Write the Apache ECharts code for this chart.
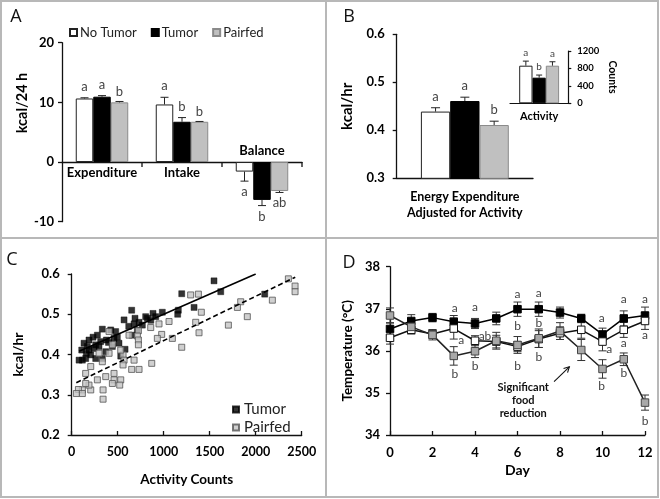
<!DOCTYPE html>
<html><head><meta charset="utf-8">
<script src="https://cdn.jsdelivr.net/npm/echarts@6/dist/echarts.min.js"></script>
<style>html,body{margin:0;padding:0;background:#fff}#c{width:660px;height:499px}</style>
</head><body><div id="c"></div>
<script>
// ---------- Panel A ----------
const groupsA = ['No Tumor', 'Tumor', 'Pairfed'];
const categoriesA = ['Expenditure', 'Intake', 'Balance'];
const noTumorA = [10.65, 9.65, -1.6];
const tumorA = [10.95, 6.75, -6.35];
const pairfedA = [10.0, 6.75, -4.85];
const noTumorErrA = [0.12, 1.2, 1.6];
const tumorErrA = [0.18, 0.7, 0.95];
const pairfedErrA = [0.15, 0.05, 0.25];
const noTumorLetA = ['a', 'a', 'a'];
const tumorLetA = ['a', 'b', 'b'];
const pairfedLetA = ['b', 'b', 'ab'];
const yTicksA = [-10, 0, 10, 20];

// ---------- Panel B ----------
const categoriesB = ['Energy Expenditure\nAdjusted for Activity'];
const noTumorB = [0.439];
const tumorB = [0.461];
const pairfedB = [0.411];
const noTumorErrB = [0.008];
const tumorErrB = [0.008];
const pairfedErrB = [0.008];
const noTumorLetB = ['a'];
const tumorLetB = ['a'];
const pairfedLetB = ['b'];
const categoriesInset = ['Activity'];
const noTumorInset = [863];
const tumorInset = [588];
const pairfedInset = [863];
const noTumorErrInset = [105];
const tumorErrInset = [60];
const pairfedErrInset = [90];
const noTumorLetInset = ['a'];
const tumorLetInset = ['b'];
const pairfedLetInset = ['a'];

// ---------- Panel C ----------
const tumorC = [[1547,0.583],[1620,0.556],[1196,0.551],[2098,0.550],[1330,0.517],[1159,0.510],[1152,0.500],[985,0.505],[884,0.502],[913,0.494],[822,0.490],[804,0.494],[652,0.510],[688,0.490],[678,0.476],[732,0.480],[569,0.486],[768,0.473],[714,0.460],[659,0.448],[580,0.413],[533,0.396],[424,0.461],[333,0.463],[496,0.443],[460,0.440],[478,0.457],[377,0.436],[315,0.432],[261,0.424],[279,0.448],[232,0.443],[188,0.436],[243,0.415],[188,0.411],[134,0.428],[109,0.411],[80,0.386],[116,0.386],[159,0.403],[207,0.399],[152,0.390],[261,0.390],[333,0.390],[370,0.407],[442,0.420],[514,0.428],[170,0.420],[297,0.420],[400,0.430],[860,0.485],[620,0.470]];
const pairfedC = [[2355,0.588],[2428,0.570],[2428,0.556],[2181,0.535],[1837,0.531],[1801,0.517],[1909,0.494],[1703,0.473],[1293,0.548],[1377,0.550],[1409,0.505],[1348,0.480],[1384,0.454],[1196,0.418],[1094,0.440],[1058,0.482],[978,0.450],[931,0.440],[949,0.476],[859,0.467],[870,0.378],[725,0.459],[714,0.446],[725,0.436],[725,0.424],[732,0.363],[678,0.386],[652,0.363],[623,0.448],[558,0.399],[569,0.386],[558,0.374],[533,0.337],[522,0.324],[460,0.353],[460,0.337],[442,0.328],[406,0.457],[442,0.424],[406,0.403],[333,0.382],[370,0.345],[341,0.312],[341,0.289],[279,0.337],[207,0.312],[188,0.324],[152,0.353],[207,0.370],[116,0.312],[73,0.313],[51,0.303],[116,0.303],[152,0.328],[297,0.403],[533,0.411]];
const trendTumorC = [[80, 0.408], [2000, 0.600]];
const trendPairfedC = [[50, 0.330], [2430, 0.592]];

// ---------- Panel D ----------
const days = [0,1,2,3,4,5,6,7,8,9,10,11,12];
const tumorD =   [36.52,36.71,36.79,36.69,36.65,36.77,36.99,36.99,36.91,36.77,36.39,36.77,36.84];
const noTumorD = [36.31,36.50,36.40,36.53,36.24,36.22,36.10,36.28,36.42,36.50,36.22,36.50,36.71];
const pairfedD = [36.84,36.57,36.38,35.88,35.99,36.24,36.14,36.30,36.47,36.02,35.57,35.80,34.77];
const tumorErrD =   [0.15,0.15,0.10,0.15,0.12,0.15,0.17,0.17,0.13,0.10,0.15,0.18,0.20];
const noTumorErrD = [0.15,0.10,0.10,0.25,0.12,0.15,0.12,0.20,0.15,0.20,0.22,0.18,0.20];
const pairfedErrD = [0.18,0.15,0.12,0.22,0.15,0.20,0.20,0.22,0.20,0.25,0.22,0.15,0.18];
const lettersD = [[3.05,37.01,'a'],[3.35,36.26,'a'],[3.05,35.44,'b'],
  [4.0,37.03,'a'],[4.47,36.35,'ab'],[4.0,35.64,'b'],
  [6.0,37.34,'a'],[6.0,36.59,'b'],[6.0,35.64,'b'],
  [7.0,37.38,'a'],[7.0,36.65,'b'],[7.0,35.85,'b'],
  [9.96,36.77,'a'],[10.32,36.04,'a'],[9.96,35.15,'b'],
  [11.0,37.22,'a'],[11.0,36.18,'a'],[11.0,35.48,'b'],
  [12.0,37.22,'a'],[12.0,36.38,'a'],[12.0,34.34,'b']];
const noteD = {text: 'Significant\nfood\nreduction', at: [6.27, 34.82], arrowFrom: [7.72, 35.27], arrowTo: [8.44, 35.62]};

// ---------- helpers ----------
const FONT = 'Lato';
const AX = '#111';
const plain = v => String(v);
function valueAxis(o) {
  return Object.assign({
    type: 'value', splitLine: {show: false},
    axisLine: {show: true, onZero: false, lineStyle: {color: AX, width: 1.3}},
    axisTick: {show: true, length: 4, lineStyle: {color: AX, width: 1.3}},
    axisLabel: {color: '#000', fontFamily: FONT, fontWeight: 'bold', fontSize: 13, margin: 9, formatter: plain},
    nameTextStyle: {color: '#000', fontFamily: FONT, fontWeight: 'bold', fontSize: 14}
  }, o);
}
function barErr(xi, yi, vals, errs, letters, offset, capW, letOff, fs, base) {
  return {
    type: 'custom', xAxisIndex: xi, yAxisIndex: yi, silent: true, z: 5,
    data: vals.map((v, i) => [i, v]),
    renderItem(params, api) {
      const i = api.value(0), v = api.value(1), e = errs[params.dataIndex];
      const dir = v >= base ? 1 : -1;
      const p0 = api.coord([i, v]), p1 = api.coord([i, v + dir * e]);
      const x = p0[0] + offset;
      const ls = {stroke: '#222', lineWidth: 1};
      return {type: 'group', children: [
        {type: 'line', shape: {x1: x, y1: p0[1], x2: x, y2: p1[1]}, style: ls},
        {type: 'line', shape: {x1: x - capW / 2, y1: p1[1], x2: x + capW / 2, y2: p1[1]}, style: ls},
        {type: 'text', x: x, y: p1[1] - dir * letOff, style: {text: letters[params.dataIndex], fill: '#444', fontFamily: FONT, fontSize: fs, align: 'center', verticalAlign: 'middle'}}
      ]};
    }
  };
}
function pointErr(yi, xs, vals, errs, capW) {
  return {
    type: 'custom', xAxisIndex: yi, yAxisIndex: yi, silent: true, z: 1,
    data: xs.map((d, i) => [d, vals[i]]),
    renderItem(params, api) {
      const d = api.value(0), v = api.value(1), e = errs[params.dataIndex];
      const pt = api.coord([d, v + e]), pb = api.coord([d, v - e]);
      const x = pt[0];
      const ls = {stroke: '#333', lineWidth: 1};
      return {type: 'group', children: [
        {type: 'line', shape: {x1: x, y1: pt[1], x2: x, y2: pb[1]}, style: ls},
        {type: 'line', shape: {x1: x - capW / 2, y1: pt[1], x2: x + capW / 2, y2: pt[1]}, style: ls},
        {type: 'line', shape: {x1: x - capW / 2, y1: pb[1], x2: x + capW / 2, y2: pb[1]}, style: ls}
      ]};
    }
  };
}
const allNegA = i => noTumorA[i] < 0 && tumorA[i] < 0 && pairfedA[i] < 0;
const whiteBar = {color: '#fff', borderColor: '#222', borderWidth: 1};
const blackBar = {color: '#000', borderColor: '#000', borderWidth: 1};
const greyBar = {color: '#c0c0c0', borderColor: '#8a8a8a', borderWidth: 1};

const chart = echarts.init(document.getElementById('c'));
const option = {
  backgroundColor: '#fff',
  animation: false,
  grid: [
    {left: 62, top: 42.7, width: 240, height: 179, outerBoundsMode: 'none'},
    {left: 396.7, top: 34.3, width: 136.3, height: 144, outerBoundsMode: 'none'},
    {left: 510, top: 51, width: 58.3, height: 52.3, outerBoundsMode: 'none'},
    {left: 71.7, top: 274, width: 230, height: 161, outerBoundsMode: 'none'},
    {left: 390, top: 266.7, width: 255, height: 168.3, outerBoundsMode: 'none'}
  ],
  legend: [
    {data: groupsA, left: 64, top: 21, itemWidth: 7, itemHeight: 7, itemGap: 14, icon: 'rect',
     textStyle: {fontFamily: FONT, fontSize: 13, color: '#222', padding: [0, 0, 0, -2]}},
    {data: ['C-Tumor', 'C-Pairfed'], orient: 'vertical', left: 227, top: 397, itemWidth: 6, itemHeight: 6, itemGap: 3, icon: 'rect',
     formatter: n => n.replace('C-', ''), textStyle: {fontFamily: FONT, fontSize: 15, color: '#222'}}
  ],
  xAxis: [
    {type: 'category', gridIndex: 0, data: categoriesA,
     axisLine: {show: true, onZero: true, lineStyle: {color: AX, width: 1.3}},
     axisTick: {show: false}, axisLabel: {show: false}},
    {type: 'category', gridIndex: 1, data: categoriesB,
     axisLine: {show: true, lineStyle: {color: AX, width: 1.3}}, axisTick: {show: false},
     axisLabel: {margin: 10, color: '#000', fontFamily: FONT, fontWeight: 'bold', fontSize: 12.5, lineHeight: 16.5}},
    {type: 'category', gridIndex: 2, data: categoriesInset,
     axisLine: {show: true, lineStyle: {color: AX, width: 1.2}}, axisTick: {show: false},
     axisLabel: {margin: 8, color: '#000', fontFamily: FONT, fontWeight: 'bold', fontSize: 11}},
    valueAxis({gridIndex: 3, min: 0, max: 2500, interval: 500,
      axisTick: {show: true, inside: true, length: 4, lineStyle: {color: AX, width: 1.3}},
      axisLabel: {color: '#000', fontFamily: FONT, fontWeight: 'bold', fontSize: 12.5, margin: 10, formatter: plain},
      name: 'Activity Counts', nameLocation: 'middle', nameGap: 38,
      nameTextStyle: {color: '#000', fontFamily: FONT, fontWeight: 'bold', fontSize: 13.5}}),
    valueAxis({gridIndex: 4, min: 0, max: 12, interval: 2,
      axisTick: {show: true, inside: true, length: 4, lineStyle: {color: AX, width: 1.3}},
      axisLabel: {color: '#000', fontFamily: FONT, fontWeight: 'bold', fontSize: 13, margin: 11, formatter: plain},
      name: 'Day', nameLocation: 'middle', nameGap: 28,
      nameTextStyle: {color: '#000', fontFamily: FONT, fontWeight: 'bold', fontSize: 14}})
  ],
  yAxis: [
    valueAxis({gridIndex: 0, min: yTicksA[0], max: yTicksA[yTicksA.length - 1], interval: 10,
      axisLabel: {color: '#000', fontFamily: FONT, fontWeight: 'bold', fontSize: 13, margin: 8, formatter: plain}}),
    valueAxis({gridIndex: 1, min: 0.3, max: 0.6, interval: 0.1,
      axisLabel: {color: '#000', fontFamily: FONT, fontWeight: 'bold', fontSize: 13, margin: 12, formatter: v => v.toFixed(1)},
      name: 'kcal/hr', nameLocation: 'middle', nameGap: 42,
      nameTextStyle: {color: '#000', fontFamily: FONT, fontWeight: 'bold', fontSize: 15}}),
    valueAxis({gridIndex: 2, position: 'right', min: 0, max: 1200, interval: 400,
      axisTick: {show: true, length: 3, lineStyle: {color: AX, width: 1.2}},
      axisLine: {show: true, lineStyle: {color: AX, width: 1.2}},
      axisLabel: {color: '#000', fontFamily: FONT, fontWeight: 'bold', fontSize: 9.5, margin: 9, formatter: plain}}),
    valueAxis({gridIndex: 3, min: 0.2, max: 0.6, interval: 0.1,
      axisLabel: {color: '#000', fontFamily: FONT, fontWeight: 'bold', fontSize: 13, margin: 12, formatter: v => v.toFixed(1)},
      name: 'kcal/hr', nameLocation: 'middle', nameGap: 46,
      nameTextStyle: {color: '#000', fontFamily: FONT, fontWeight: 'bold', fontSize: 14}}),
    valueAxis({gridIndex: 4, min: 34, max: 38, interval: 1,
      axisLabel: {color: '#000', fontFamily: FONT, fontWeight: 'bold', fontSize: 13, margin: 10, formatter: plain},
      name: 'Temperature (°C)', nameLocation: 'middle', nameGap: 35,
      nameTextStyle: {color: '#000', fontFamily: FONT, fontWeight: 'bold', fontSize: 13.5}})
  ],
  series: [
    // Panel A
    {type: 'bar', name: groupsA[0], xAxisIndex: 0, yAxisIndex: 0, data: noTumorA, barWidth: 17.5, barGap: '0%', itemStyle: whiteBar},
    {type: 'bar', name: groupsA[1], xAxisIndex: 0, yAxisIndex: 0, data: tumorA, barWidth: 17.5, barGap: '0%', itemStyle: blackBar},
    {type: 'bar', name: groupsA[2], xAxisIndex: 0, yAxisIndex: 0, data: pairfedA, barWidth: 17.5, barGap: '0%', itemStyle: greyBar},
    barErr(0, 0, noTumorA, noTumorErrA, noTumorLetA, -17.5, 8, 11, 13, 0),
    barErr(0, 0, tumorA, tumorErrA, tumorLetA, 0, 8, 11, 13, 0),
    barErr(0, 0, pairfedA, pairfedErrA, pairfedLetA, 17.5, 8, 10, 13, 0),
    // A category labels and boundary ticks drawn at the zero line
    {type: 'custom', xAxisIndex: 0, yAxisIndex: 0, silent: true, z: 5,
     data: categoriesA.map((c, i) => [i, 0]),
     renderItem(params, api) {
       const i = api.value(0);
       const p = api.coord([i, 0]);
       const band = api.size([1, 0])[0];
       const up = allNegA(i);
       const xr = p[0] + band / 2;
       return {type: 'group', children: [
         {type: 'text', x: p[0], y: p[1] + (up ? -11 : 11), style: {text: categoriesA[i], fill: '#000', fontFamily: FONT, fontWeight: 'bold', fontSize: 13, align: 'center', verticalAlign: 'middle'}},
         {type: 'line', shape: {x1: xr, y1: p[1], x2: xr, y2: p[1] + 5}, style: {stroke: AX, lineWidth: 1.3}}
       ]};
     }},
    // Panel B
    {type: 'bar', name: 'B-No Tumor', xAxisIndex: 1, yAxisIndex: 1, data: noTumorB, barWidth: 29.3, barGap: '0%', itemStyle: whiteBar},
    {type: 'bar', name: 'B-Tumor', xAxisIndex: 1, yAxisIndex: 1, data: tumorB, barWidth: 29.3, barGap: '0%', itemStyle: blackBar},
    {type: 'bar', name: 'B-Pairfed', xAxisIndex: 1, yAxisIndex: 1, data: pairfedB, barWidth: 29.3, barGap: '0%', itemStyle: greyBar},
    barErr(1, 1, noTumorB, noTumorErrB, noTumorLetB, -29.3, 9, 11, 13, 0.3),
    barErr(1, 1, tumorB, tumorErrB, tumorLetB, 0, 9, 11, 13, 0.3),
    barErr(1, 1, pairfedB, pairfedErrB, pairfedLetB, 29.3, 9, 11, 13, 0.3),
    {type: 'bar', name: 'I-No Tumor', xAxisIndex: 2, yAxisIndex: 2, data: noTumorInset, barWidth: 13.3, barGap: '0%', itemStyle: whiteBar},
    {type: 'bar', name: 'I-Tumor', xAxisIndex: 2, yAxisIndex: 2, data: tumorInset, barWidth: 13.3, barGap: '0%', itemStyle: blackBar},
    {type: 'bar', name: 'I-Pairfed', xAxisIndex: 2, yAxisIndex: 2, data: pairfedInset, barWidth: 13.3, barGap: '0%', itemStyle: greyBar},
    barErr(2, 2, noTumorInset, noTumorErrInset, noTumorLetInset, -13.3, 6, 8, 10, 0),
    barErr(2, 2, tumorInset, tumorErrInset, tumorLetInset, 0, 6, 8, 10, 0),
    barErr(2, 2, pairfedInset, pairfedErrInset, pairfedLetInset, 13.3, 6, 8, 10, 0),
    // Panel C
    {type: 'scatter', name: 'C-Tumor', xAxisIndex: 3, yAxisIndex: 3, data: tumorC, symbol: 'rect', symbolSize: 6,
     itemStyle: {color: '#000', borderColor: '#000', borderWidth: 0.5}, z: 2},
    {type: 'scatter', name: 'C-Pairfed', xAxisIndex: 3, yAxisIndex: 3, data: pairfedC, symbol: 'rect', symbolSize: 6,
     itemStyle: {color: '#c4c4c4', borderColor: '#555', borderWidth: 1}, z: 2},
    {type: 'line', name: 'C-trend-T', xAxisIndex: 3, yAxisIndex: 3, data: trendTumorC, symbol: 'none', z: 3,
     lineStyle: {color: '#000', width: 1.6}},
    {type: 'line', name: 'C-trend-P', xAxisIndex: 3, yAxisIndex: 3, data: trendPairfedC, symbol: 'none', z: 3,
     lineStyle: {color: '#000', width: 1.6, type: [5, 3]}},
    // Panel D
    pointErr(4, days, tumorD, tumorErrD, 8),
    pointErr(4, days, noTumorD, noTumorErrD, 8),
    pointErr(4, days, pairfedD, pairfedErrD, 8),
    {type: 'line', name: 'D-Tumor', xAxisIndex: 4, yAxisIndex: 4, data: days.map((d, i) => [d, tumorD[i]]), symbol: 'rect', symbolSize: 7.5,
     itemStyle: {color: '#000', borderColor: '#000', borderWidth: 1}, lineStyle: {color: '#000', width: 1.5}, z: 2},
    {type: 'line', name: 'D-No Tumor', xAxisIndex: 4, yAxisIndex: 4, data: days.map((d, i) => [d, noTumorD[i]]), symbol: 'rect', symbolSize: 7.5,
     itemStyle: {color: '#fff', borderColor: '#111', borderWidth: 1}, lineStyle: {color: '#111', width: 1.5}, z: 2},
    {type: 'line', name: 'D-Pairfed', xAxisIndex: 4, yAxisIndex: 4, data: days.map((d, i) => [d, pairfedD[i]]), symbol: 'rect', symbolSize: 7.5,
     itemStyle: {color: '#a8a8a8', borderColor: '#444', borderWidth: 1}, lineStyle: {color: '#222', width: 1.5}, z: 2},
    {type: 'custom', xAxisIndex: 4, yAxisIndex: 4, silent: true, z: 5,
     data: lettersD.map(l => [l[0], l[1]]),
     renderItem(params, api) {
       const p = api.coord([api.value(0), api.value(1)]);
       return {type: 'text', x: p[0], y: p[1], style: {text: lettersD[params.dataIndex][2], fill: '#444', fontFamily: FONT, fontSize: 12, align: 'center', verticalAlign: 'middle'}};
     }},
    {type: 'custom', xAxisIndex: 4, yAxisIndex: 4, silent: true, z: 5,
     data: [noteD.at],
     renderItem(params, api) {
       const t = api.coord(noteD.at), a0 = api.coord(noteD.arrowFrom), a1 = api.coord(noteD.arrowTo);
       const ang = Math.atan2(a1[1] - a0[1], a1[0] - a0[0]);
       const h = 6, s = {stroke: '#111', lineWidth: 1.1};
       return {type: 'group', children: [
         {type: 'text', x: t[0], y: t[1], style: {text: noteD.text, fill: '#111', fontFamily: FONT, fontWeight: 'bold', fontSize: 11, lineHeight: 13.4, align: 'center', verticalAlign: 'middle'}},
         {type: 'line', shape: {x1: a0[0], y1: a0[1], x2: a1[0], y2: a1[1]}, style: s},
         {type: 'polyline', shape: {points: [
           [a1[0] - h * Math.cos(ang - 0.5), a1[1] - h * Math.sin(ang - 0.5)], a1,
           [a1[0] - h * Math.cos(ang + 0.5), a1[1] - h * Math.sin(ang + 0.5)]]}, style: Object.assign({fill: null}, s)}
       ]};
     }}
  ],
  graphic: [
    {type: 'rect', shape: {x: 1, y: 1, width: 657, height: 496}, style: {fill: null, stroke: '#b8b8b8', lineWidth: 2}, silent: true},
    {type: 'line', shape: {x1: 326, y1: 1, x2: 326, y2: 497}, style: {stroke: '#b8b8b8', lineWidth: 2}, silent: true},
    {type: 'line', shape: {x1: 1, y1: 238, x2: 658, y2: 238}, style: {stroke: '#b8b8b8', lineWidth: 2}, silent: true},
    {type: 'text', x: 16, y: 16.5, style: {text: 'A', fontFamily: 'Open Sans', fontSize: 18, fill: '#111', align: 'center', verticalAlign: 'middle'}},
    {type: 'text', x: 349, y: 16.5, style: {text: 'B', fontFamily: 'Open Sans', fontSize: 18, fill: '#111', align: 'center', verticalAlign: 'middle'}},
    {type: 'text', x: 12, y: 260, style: {text: 'C', fontFamily: 'Open Sans', fontSize: 18, fill: '#111', align: 'center', verticalAlign: 'middle'}},
    {type: 'text', x: 349, y: 263, style: {text: 'D', fontFamily: 'Open Sans', fontSize: 18, fill: '#111', align: 'center', verticalAlign: 'middle'}},
    {type: 'text', x: 22, y: 103, rotation: Math.PI / 2, style: {text: 'kcal/24 h', fontFamily: FONT, fontWeight: 'bold', fontSize: 14.5, fill: '#000', align: 'center', verticalAlign: 'middle'}},
    {type: 'text', x: 612, y: 77, rotation: -Math.PI / 2, style: {text: 'Counts', fontFamily: FONT, fontWeight: 'bold', fontSize: 10.5, fill: '#000', align: 'center', verticalAlign: 'middle'}}
  ]
};
chart.setOption(option);
</script>
</body></html>
